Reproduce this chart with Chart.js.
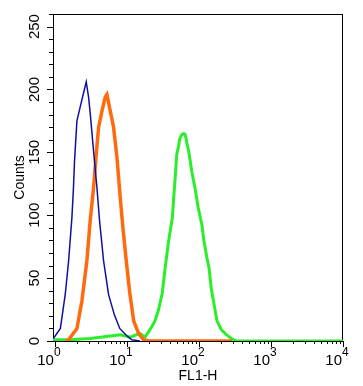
<!DOCTYPE html>
<html>
<head>
<meta charset="utf-8">
<script src="https://cdn.jsdelivr.net/npm/chart.js@4.4.1/dist/chart.umd.min.js"></script>
<style>
  html, body { margin: 0; padding: 0; background: #fff; }
  #wrap { width: 363px; height: 386px; }
</style>
</head>
<body>
<div id="wrap"><canvas id="histo"></canvas></div>
<script>
// FL1-H overlay histogram
const blueFL1 = [0.95, 1.19, 1.39, 1.55, 1.72, 1.81, 1.87, 2.02, 2.24, 2.49, 2.72, 2.93, 3.09, 3.44, 3.83, 4.16, 4.73, 5.55, 6.67, 7.94, 10.0, 11.7, 15.1];
const blueCounts = [2, 10, 37, 64, 98, 122, 143, 175, 186, 197, 206, 194, 181, 151, 122, 96, 64, 37, 21, 10, 4, 1, 0];

const orangeFL1 = [1.41, 1.55, 2.02, 2.37, 2.78, 3.09, 3.44, 3.75, 4.04, 4.50, 5.00, 5.27, 5.86, 6.52, 7.26, 8.07, 8.79, 9.77, 10.9, 12.4, 14.5, 17.0, 20.0, 288];
const orangeCounts = [0, 1, 10, 32, 64, 96, 122, 149, 170, 183, 194, 196, 183, 170, 146, 114, 90, 64, 39, 16, 6, 1, 0, 0];

const greenFL1 = [0.94, 1.62, 3.09, 4.27, 5.89, 8.13, 11.2, 15.1, 17.8, 20.9, 24.5, 27.5, 30.9, 33.9, 38.0, 42.7, 44.7, 46.8, 49.0, 52.5, 53.7, 57.5, 61.7, 64.6, 67.6, 72.4, 79.4, 89.1, 97.7, 110, 117, 129, 138, 148, 162, 178, 204, 240, 282, 331, 10000];
const greenCounts = [1, 1, 2, 3, 4, 5, 3, 6, 3, 9, 16, 25, 38, 58, 80, 98, 115, 130, 148, 156, 160, 164, 165, 164, 158, 150, 135, 120, 106, 92, 80, 66, 58, 42, 29, 16, 9, 5, 2, 0, 0];

const xMajorTicks = [1, 10, 100, 1000, 10000];
const xTickBase = '10';
const xTickExponents = ['0', '1', '2', '3', '4'];
const yMajorTicks = [0, 50, 100, 150, 200, 250];

const FONT = 'Arial, "Liberation Sans", Helvetica, sans-serif';

function toPoints(xs, ys) {
    return xs.map((v, i) => ({ x: v, y: ys[i] }));
}

// log decades get 1..9 minor ticks
const xTickValues = [];
xMajorTicks.slice(0, -1).forEach(d => {
    for (let m = 1; m < 10; m++) xTickValues.push(d * m);
});
xTickValues.push(xMajorTicks[xMajorTicks.length - 1]);

const yTickValues = [];
for (let v = 0; v <= 260; v += 10) yTickValues.push(v);

// box round the plot plus outward tick marks, long for majors
const frameAndTicks = {
    id: 'frameAndTicks',
    beforeDatasetsDraw(chart) {
        const { ctx, chartArea: a, scales: { x, y } } = chart;
        ctx.save();
        ctx.strokeStyle = '#000';
        ctx.lineWidth = 1;
        ctx.strokeRect(a.left + 0.5, a.top + 0.5, a.right - a.left - 1, a.bottom - a.top);
        ctx.beginPath();
        x.ticks.forEach(t => {
            const px = Math.round(x.getPixelForValue(t.value)) + 0.5;
            const len = xMajorTicks.includes(t.value) ? 6 : 3;
            ctx.moveTo(px, a.bottom);
            ctx.lineTo(px, a.bottom + len);
        });
        y.ticks.forEach(t => {
            const py = Math.round(y.getPixelForValue(t.value)) + 0.5;
            const len = yMajorTicks.includes(t.value) ? 6 : 4;
            ctx.moveTo(a.left, py);
            ctx.lineTo(a.left - len, py);
        });
        ctx.stroke();
        ctx.restore();
    },
    afterDraw(chart) {
        // decade labels as 10 with a raised exponent
        const { ctx, chartArea: a, scales: { x } } = chart;
        ctx.save();
        ctx.fillStyle = '#000';
        ctx.textBaseline = 'alphabetic';
        xMajorTicks.forEach((v, i) => {
            const px = x.getPixelForValue(v);
            ctx.font = '15px ' + FONT;
            ctx.textAlign = 'right';
            ctx.fillText(xTickBase, px - 1, a.bottom + 24);
            ctx.font = '12px ' + FONT;
            ctx.textAlign = 'left';
            ctx.fillText(xTickExponents[i], px - 1, a.bottom + 15);
        });
        ctx.restore();
    }
};

new Chart(document.getElementById('histo'), {
    type: 'line',
    data: {
        datasets: [{
            label: 'blue',
            data: toPoints(blueFL1, blueCounts),
            borderColor: '#1010a0',
            borderWidth: 1.5
        }, {
            label: 'orange',
            data: toPoints(orangeFL1, orangeCounts),
            borderColor: '#ff6a0e',
            borderWidth: 3.5
        }, {
            label: 'green',
            data: toPoints(greenFL1, greenCounts),
            borderColor: '#2bee2b',
            borderWidth: 3
        }]
    },
    options: {
        responsive: true,
        maintainAspectRatio: false,
        animation: false,
        layout: { padding: { top: 14, right: 20, left: 0, bottom: 0 } },
        elements: { point: { radius: 0 }, line: { tension: 0 } },
        plugins: { legend: { display: false }, tooltip: { enabled: false } },
        scales: {
            x: {
                type: 'logarithmic',
                min: 0.94,
                max: 10000,
                afterBuildTicks: s => { s.ticks = xTickValues.map(v => ({ value: v })); },
                afterFit: s => { s.height = 45; },
                grid: { display: false },
                border: { display: false },
                ticks: { display: false, autoSkip: false },
                title: {
                    display: true,
                    text: 'FL1-H',
                    color: '#000',
                    font: { family: FONT, size: 14 },
                    padding: { top: 0, bottom: 1 }
                }
            },
            y: {
                min: 0,
                max: 260,
                afterBuildTicks: s => { s.ticks = yTickValues.map(v => ({ value: v })); },
                afterFit: s => { s.width = 53; },
                grid: { display: false, drawTicks: true, tickLength: 6 },
                border: { display: false },
                ticks: {
                    autoSkip: false,
                    minRotation: 90,
                    maxRotation: 90,
                    crossAlign: 'center',
                    padding: 0,
                    color: '#000',
                    font: { family: FONT, size: 15 },
                    callback: v => yMajorTicks.includes(v) ? String(v) : ''
                },
                title: {
                    display: true,
                    text: 'Counts',
                    color: '#000',
                    font: { family: FONT, size: 14 },
                    padding: { top: 12, bottom: 0 }
                }
            }
        }
    },
    plugins: [frameAndTicks]
});
</script>
</body>
</html>
